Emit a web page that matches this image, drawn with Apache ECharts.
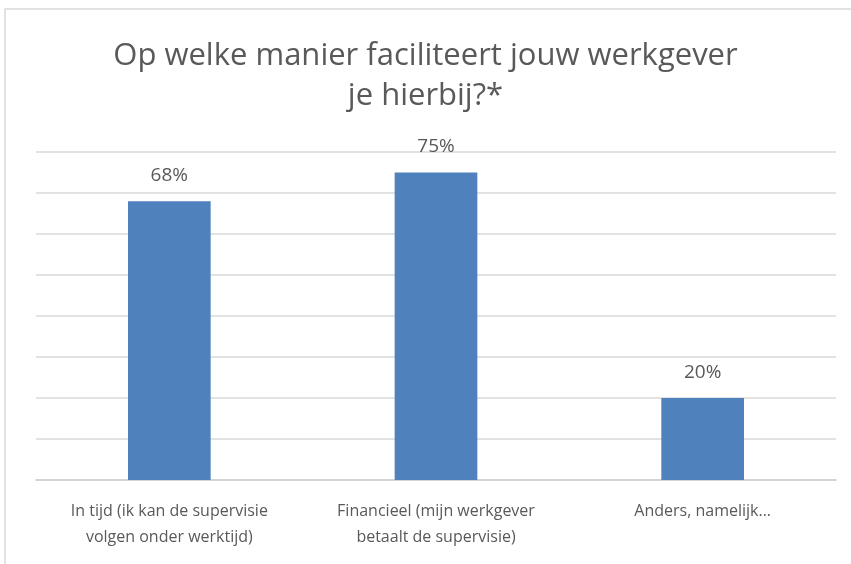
<!DOCTYPE html>
<html>
<head>
<meta charset="utf-8">
<script src="https://cdn.jsdelivr.net/npm/echarts@6/dist/echarts.min.js"></script>
<style>
  html, body { margin: 0; padding: 0; background: #fff; }
  #chart { width: 851px; height: 564px; }
</style>
</head>
<body>
<div id="chart"></div>
<script>
// categories (line breaks as in the original chart)
var categories = [
  'In tijd (ik kan de supervisie\nvolgen onder werktijd)',
  'Financieel (mijn werkgever\nbetaalt de supervisie)',
  'Anders, namelijk...'
]
var percentages = [68, 75, 20]

var textColor = '#595959'
var fontFamily = '"Open Sans", sans-serif'

var chart = echarts.init(document.getElementById('chart'))
var option = {
  animation: false,
  backgroundColor: '#fff',
  graphic: [
    {
      type: 'rect',
      shape: { x: 5, y: 9, width: 900, height: 600 },
      style: { fill: 'none', stroke: '#d9d9d9', lineWidth: 1.5 },
      silent: true
    }
  ],
  title: {
    text: 'Op welke manier faciliteert jouw werkgever\nje hierbij?*',
    left: 'center',
    top: 31,
    textStyle: {
      color: textColor,
      fontFamily: fontFamily,
      fontWeight: 'normal',
      fontSize: 31,
      lineHeight: 40
    }
  },
  grid: {
    left: 36,
    right: 15,
    top: 152,
    bottom: 84
  },
  xAxis: {
    type: 'category',
    data: categories,
    axisTick: { show: false },
    axisLine: { show: true, lineStyle: { color: '#d0d0d0', width: 1.5 } },
    axisLabel: {
      interval: 0,
      margin: 18,
      color: textColor,
      fontFamily: fontFamily,
      fontSize: 16,
      lineHeight: 26
    }
  },
  yAxis: {
    type: 'value',
    min: 0,
    max: 80,
    interval: 10,
    axisLabel: { show: false },
    axisLine: { show: false },
    axisTick: { show: false },
    splitLine: { lineStyle: { color: '#d9d9d9', width: 1.5 } }
  },
  series: [
    {
      type: 'bar',
      data: percentages,
      barWidth: '31%',
      itemStyle: { color: '#4f81bd' },
      label: {
        show: true,
        position: 'top',
        distance: 16,
        formatter: '{c}%',
        color: textColor,
        fontFamily: fontFamily,
        fontSize: 19
      }
    }
  ]
}
chart.setOption(option)
</script>
</body>
</html>
